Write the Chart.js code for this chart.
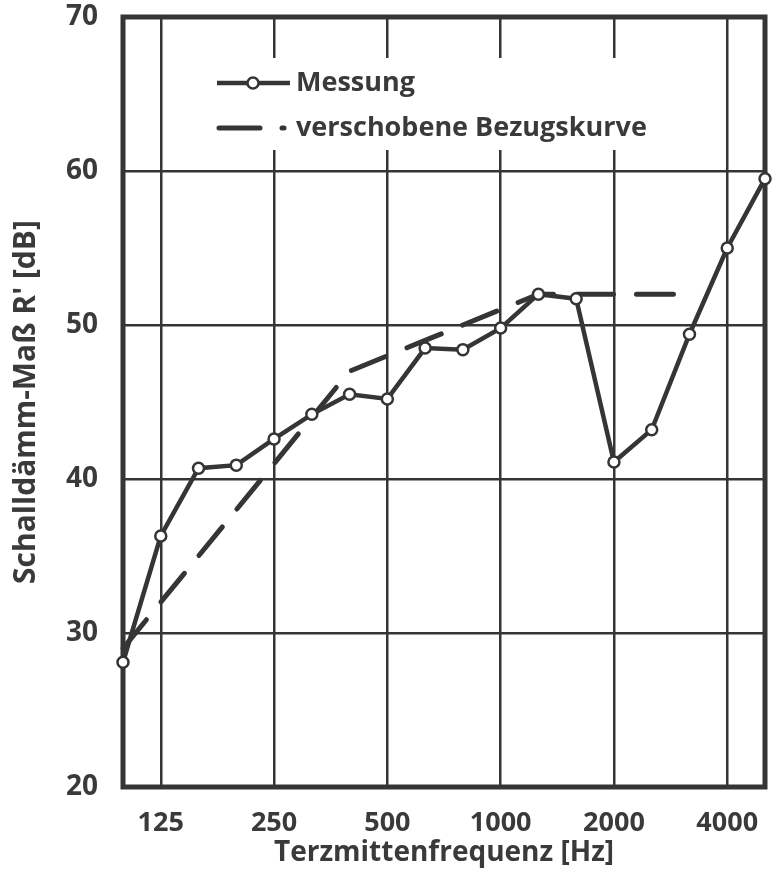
<!DOCTYPE html>
<html>
<head>
<meta charset="utf-8">
<script src="https://cdn.jsdelivr.net/npm/chart.js@4.4.1/dist/chart.umd.min.js"></script>
<style>
  html, body { margin: 0; padding: 0; background: #fff; }
  canvas { display: block; }
</style>
</head>
<body>
<canvas id="chart" width="778" height="873" style="width:778px;height:873px"></canvas>
<script>
// Terzmittenfrequenzen (Hz)
const frequencies = ["100", "125", "160", "200", "250", "315", "400", "500", "630",
  "800", "1000", "1250", "1600", "2000", "2500", "3150", "4000", "5000"];
// nur diese Frequenzen bekommen Beschriftung + Gitterlinie
const shownTicks = ["125", "250", "500", "1000", "2000", "4000"];
// Messung R' in dB
const messung = [28.1, 36.3, 40.7, 40.9, 42.6, 44.2, 45.5, 45.2, 48.5,
  48.4, 49.8, 52.0, 51.7, 41.1, 43.2, 49.4, 55.0, 59.5];
// verschobene Bezugskurve (endet bei 3150 Hz)
const bezugskurve = [29, 32, 35, 38, 41, 44, 47, 48, 49,
  50, 51, 52, 52, 52, 52, 52, null, null];
const yMin = 20, yMax = 70, yStep = 10;

const dark = "#353535";
const textColor = "#3a3a3a";
Chart.defaults.font.family = "'Open Sans', sans-serif";

// Legende im Diagramm + dicker Rahmen
const frameAndLegend = {
  id: "frameAndLegend",
  beforeDatasetsDraw(chart) {
    const { ctx, chartArea: a } = chart;
    ctx.save();
    // weisser Hintergrund der Legende (unterbricht das Gitter)
    ctx.fillStyle = "#fff";
    ctx.fillRect(a.left + 87, a.top + 41, 455, 92);

    const x0 = a.left + 94;
    const y1 = a.top + 66;
    const y2 = a.top + 111;
    ctx.strokeStyle = dark;
    ctx.lineWidth = 4.5;
    ctx.beginPath();
    ctx.moveTo(x0, y1);
    ctx.lineTo(x0 + 73, y1);
    ctx.stroke();
    ctx.beginPath();
    ctx.arc(x0 + 36, y1, 5.5, 0, Math.PI * 2);
    ctx.fillStyle = "#fff";
    ctx.fill();
    ctx.lineWidth = 2.5;
    ctx.stroke();

    ctx.lineWidth = 5;
    ctx.lineCap = "round";
    ctx.beginPath();
    ctx.moveTo(x0 + 2, y2);
    ctx.lineTo(x0 + 43, y2);
    ctx.moveTo(x0 + 65, y2);
    ctx.lineTo(x0 + 67, y2);
    ctx.stroke();

    ctx.fillStyle = textColor;
    ctx.font = "bold 27px 'Open Sans', sans-serif";
    ctx.textBaseline = "middle";
    ctx.textAlign = "left";
    ctx.fillText("Messung", x0 + 79, y1);
    ctx.fillText("verschobene Bezugskurve", x0 + 79, y2);

    // Rahmen
    ctx.lineCap = "butt";
    ctx.lineWidth = 5;
    ctx.strokeStyle = dark;
    ctx.strokeRect(a.left, a.top, a.right - a.left, a.bottom - a.top);
    ctx.restore();
  }
};

function noPadding(s) {
  s.paddingTop = 0;
  s.paddingBottom = 0;
  s.paddingLeft = 0;
  s.paddingRight = 0;
}

new Chart(document.getElementById("chart"), {
  type: "line",
  data: {
    labels: frequencies,
    datasets: [
      {
        label: "Messung",
        data: messung,
        borderColor: dark,
        borderWidth: 4.5,
        pointRadius: 5.5,
        pointBackgroundColor: "#fff",
        pointBorderColor: dark,
        pointBorderWidth: 2.5,
        tension: 0,
        clip: false,
        order: 0
      },
      {
        label: "verschobene Bezugskurve",
        data: bezugskurve,
        borderColor: dark,
        borderWidth: 5,
        borderDash: [37, 23],
        borderCapStyle: "round",
        pointRadius: 0,
        tension: 0,
        clip: false,
        order: 1
      }
    ]
  },
  options: {
    responsive: false,
    animation: false,
    layout: { padding: { left: 0, right: 13, top: 17, bottom: 0 } },
    plugins: {
      legend: { display: false },
      tooltip: { enabled: false }
    },
    scales: {
      x: {
        border: { display: false },
        grid: {
          color: (c) => shownTicks.includes(frequencies[c.index]) ? dark : "transparent",
          lineWidth: 2.5,
          drawTicks: false
        },
        ticks: {
          autoSkip: false,
          maxRotation: 0,
          padding: 20,
          color: textColor,
          font: { size: 27, weight: "bold" },
          callback: (v, i) => shownTicks.includes(frequencies[i]) ? frequencies[i] : ""
        },
        title: {
          display: true,
          text: "Terzmittenfrequenz [Hz]",
          color: textColor,
          font: { size: 28, weight: "bold" },
          padding: { top: 0, bottom: 3 }
        },
        afterFit: (s) => { s.height = 86; noPadding(s); }
      },
      y: {
        min: yMin,
        max: yMax,
        border: { display: false },
        grid: { color: dark, lineWidth: 2.5, drawTicks: false },
        ticks: {
          stepSize: yStep,
          padding: 25,
          color: textColor,
          font: { size: 28, weight: "bold" }
        },
        title: {
          display: true,
          text: "Schalldämm-Maß R' [dB]",
          color: textColor,
          font: { size: 30, weight: "bold" },
          padding: { top: 8, bottom: 0 }
        },
        afterFit: (s) => { s.width = 123; noPadding(s); }
      }
    }
  },
  plugins: [frameAndLegend]
});
</script>
</body>
</html>
